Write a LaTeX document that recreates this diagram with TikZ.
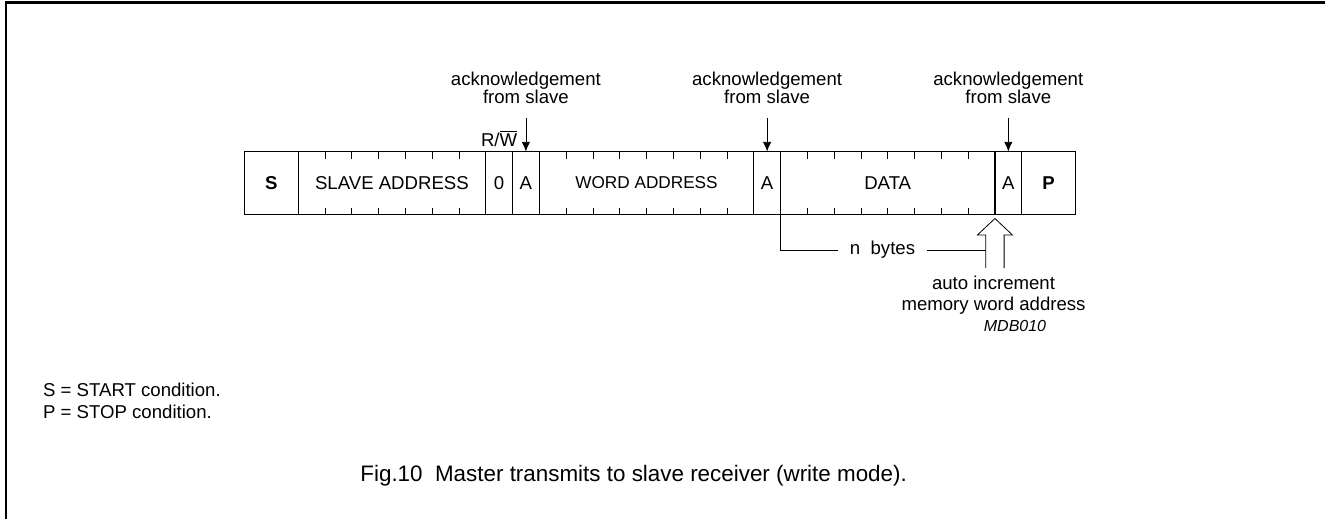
\documentclass[tikz,border=0pt]{standalone}
\usepackage{fontspec}
\setmainfont{Liberation Sans}
\usepackage{tikz}
\usetikzlibrary{arrows.meta,calc,positioning}
\tikzset{>={Latex[length=4.8pt,width=4.2pt]}}
\tikzset{field/.style={draw, semithick, minimum height=31.5pt, inner sep=0pt, outer sep=0pt, font=\fontsize{9.3}{11}\selectfont},
         acklabel/.style={align=center, inner sep=0pt, font=\fontsize{9.3}{9.2}\selectfont},
         plain/.style={inner sep=0pt, font=\fontsize{9.3}{10}\selectfont}}
\newcommand{\bitw}{13.4pt}

\begin{document}
\begin{tikzpicture}[x=0.5pt,y=-0.5pt]
\useasboundingbox (0,0) rectangle (1325,519);
% frame
\draw[line width=1.1pt] (6,519) -- (6,2.5) -- (1325,2.5);

% the message
\node[field, minimum width=2*\bitw, anchor=west] (s) at (244.5,183) {\textbf{S}};
\node[field, minimum width=7*\bitw, right=0pt of s] (saddr) {SLAVE ADDRESS};
\node[field, minimum width=\bitw, right=0pt of saddr] (rw) {0};
\node[field, minimum width=\bitw, right=0pt of rw] (ackA) {A};
\node[field, minimum width=8*\bitw, right=0pt of ackA, font=\fontsize{8.6}{10}\selectfont] (waddr) {WORD ADDRESS};
\node[field, minimum width=\bitw, right=0pt of waddr] (ackB) {A};
\node[field, minimum width=8*\bitw, right=0pt of ackB] (data) {DATA};
\node[field, minimum width=\bitw, right=0pt of data] (ackC) {A};
\node[field, minimum width=2*\bitw, right=0pt of ackC] (p) {\textbf{P}};

% bit ticks
\foreach \f/\n in {saddr/6,waddr/7,data/7}
  \foreach \i in {1,...,\n} {
    \draw ($(\f.north west)+(\i*26.8,0)$) -- ++(0,7);
    \draw ($(\f.south west)+(\i*26.8,0)$) -- ++(0,-7);
  }

% acknowledgements
\node[acklabel, above=23.5pt of ackA] (ackAtxt) {acknowledgement\\from slave};
\node[acklabel, above=23.5pt of ackB] (ackBtxt) {acknowledgement\\from slave};
\node[acklabel, above=23.5pt of ackC] (ackCtxt) {acknowledgement\\from slave};
\draw[->, shorten <=6.5pt] (ackAtxt.south) -- (ackA.north);
\draw[->, shorten <=6.5pt] (ackBtxt.south) -- (ackB.north);
\draw[->, shorten <=6.5pt] (ackCtxt.south) -- (ackC.north);
\node[plain, above=2pt of rw] (rwtxt) {R/$\overline{\hbox{W}}$};

% auto increment arrow
\coordinate (tip) at ($(ackC.south west)+(0,4)$);
\draw ($(tip)+(-9.2,49.5)$) -- ($(tip)+(-9.2,16.5)$) -- ($(tip)+(-17.5,16.5)$) -- (tip)
  -- ($(tip)+(17.5,16.5)$) -- ($(tip)+(9.2,16.5)$) -- ($(tip)+(9.2,49.5)$);
\coordinate (stemL) at ($(tip)+(-9.2,31.5)$);
\node[plain, align=center, anchor=north, font=\fontsize{9.3}{10.3}\selectfont] (autoinc) at (993.5,276) {auto increment\\memory word address};
\node[plain, anchor=base, font=\fontsize{8}{9}\selectfont\itshape] (mdb) at (1015,331.5) {MDB010};

% n bytes
\node[plain, inner sep=5.8pt] (nbytes) at (882.5,250) {n\ \ bytes};
\draw (ackB.south east) |- (nbytes.west);
\draw (nbytes.east) -- (nbytes.east -| stemL);

% legend and caption
\node[plain, anchor=base west] (legS) at (42.7,396.7) {S = START condition.};
\node[plain, anchor=base west] (legP) at (42.7,418.3) {P = STOP condition.};
\node[plain, anchor=base west, font=\fontsize{11.2}{14}\selectfont] (caption) at (360,481.7) {Fig.10\ \ Master transmits to slave receiver (write mode).};
\end{tikzpicture}
\end{document}
